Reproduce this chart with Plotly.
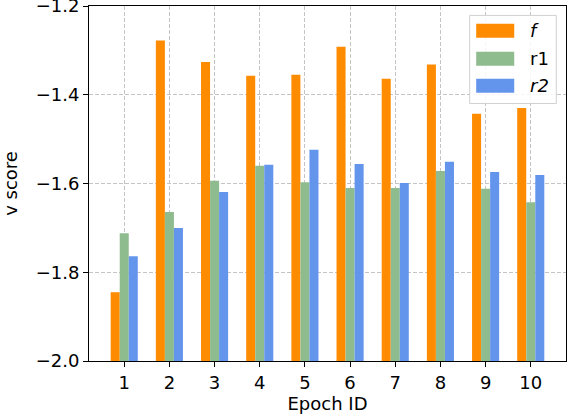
import plotly.graph_objects as go

epochs = [1, 2, 3, 4, 5, 6, 7, 8, 9, 10]
f_vals = [-1.845, -1.278, -1.326, -1.357, -1.355, -1.292, -1.364, -1.332, -1.443, -1.430]
r1_vals = [-1.712, -1.664, -1.594, -1.560, -1.597, -1.610, -1.610, -1.572, -1.612, -1.642]
r2_vals = [-1.764, -1.700, -1.619, -1.558, -1.524, -1.556, -1.599, -1.551, -1.574, -1.581]
y_ticks = [-2.0, -1.8, -1.6, -1.4, -1.2]
base_val = -2.0

series = [
    ("f", "<i>f</i>", f_vals, "#FF8C00"),
    ("r1", "r1", r1_vals, "#8FBC8F"),
    ("r2", "<i>r2</i>", r2_vals, "#6495ED"),
]

W, H = 574, 419
L, R, T, B = 89.3, 565.7, 6.3, 361.0

fig = go.Figure()
for name, label, vals, color in series:
    fig.add_trace(go.Bar(
        x=epochs, y=[v - base_val for v in vals], base=base_val,
        name=name, marker=dict(color=color, line=dict(width=0)),
        showlegend=False,
    ))

def px_x(p):
    return (p - L) / (R - L)

def px_y(p):
    return (B - p) / (B - T)

shapes = []
annotations = []
shapes.append(dict(type="rect", xref="paper", yref="paper",
                   x0=px_x(469.5), x1=px_x(556), y0=px_y(103.7), y1=px_y(15.7),
                   line=dict(color="#d0d0d0", width=1), fillcolor="rgba(255,255,255,0.85)",
                   layer="above"))
rows = [24, 52, 79]
for (name, label, vals, color), top in zip(series, rows):
    shapes.append(dict(type="rect", xref="paper", yref="paper",
                       x0=px_x(476), x1=px_x(514), y0=px_y(top + 14), y1=px_y(top),
                       line=dict(width=0), fillcolor=color, layer="above"))
    annotations.append(dict(xref="paper", yref="paper", x=px_x(528), y=px_y(top + 7),
                            text=label, showarrow=False, xanchor="left", yanchor="middle",
                            font=dict(family="DejaVu Sans", size=18, color="black")))

grid = dict(showgrid=True, gridcolor="#c4c4c4", griddash="4px,2px", gridwidth=1)

fig.update_layout(
    width=W, height=H,
    margin=dict(l=L, r=W - R, t=T, b=H - B, pad=0, autoexpand=False),
    paper_bgcolor="white", plot_bgcolor="white",
    barmode="group", bargap=0.4, bargroupgap=0,
    font=dict(family="DejaVu Sans", size=18, color="black"),
    shapes=shapes, annotations=annotations,
    xaxis=dict(
        range=[0.22, 10.78], tickvals=epochs, ticktext=[str(e) for e in epochs],
        showline=True, linecolor="black", linewidth=1, mirror=True,
        ticks="outside", ticklen=5, tickcolor="black", ticklabeloverflow="allow",
        zeroline=False, automargin=False, **grid,
        title=dict(text="Epoch ID", font=dict(size=18), standoff=3),
    ),
    yaxis=dict(
        range=[-2.0, -1.2], tickvals=y_ticks, tickformat=".1f",
        showline=True, linecolor="black", linewidth=1, mirror=True,
        ticks="outside", ticklen=5, tickcolor="black", ticklabeloverflow="allow",
        zeroline=False, automargin=False, **grid,
        title=dict(text="v score", font=dict(size=18), standoff=13),
    ),
)

fig.write_html("out.html", config={"displayModeBar": False},
               post_script="document.body.style.margin='0';")
